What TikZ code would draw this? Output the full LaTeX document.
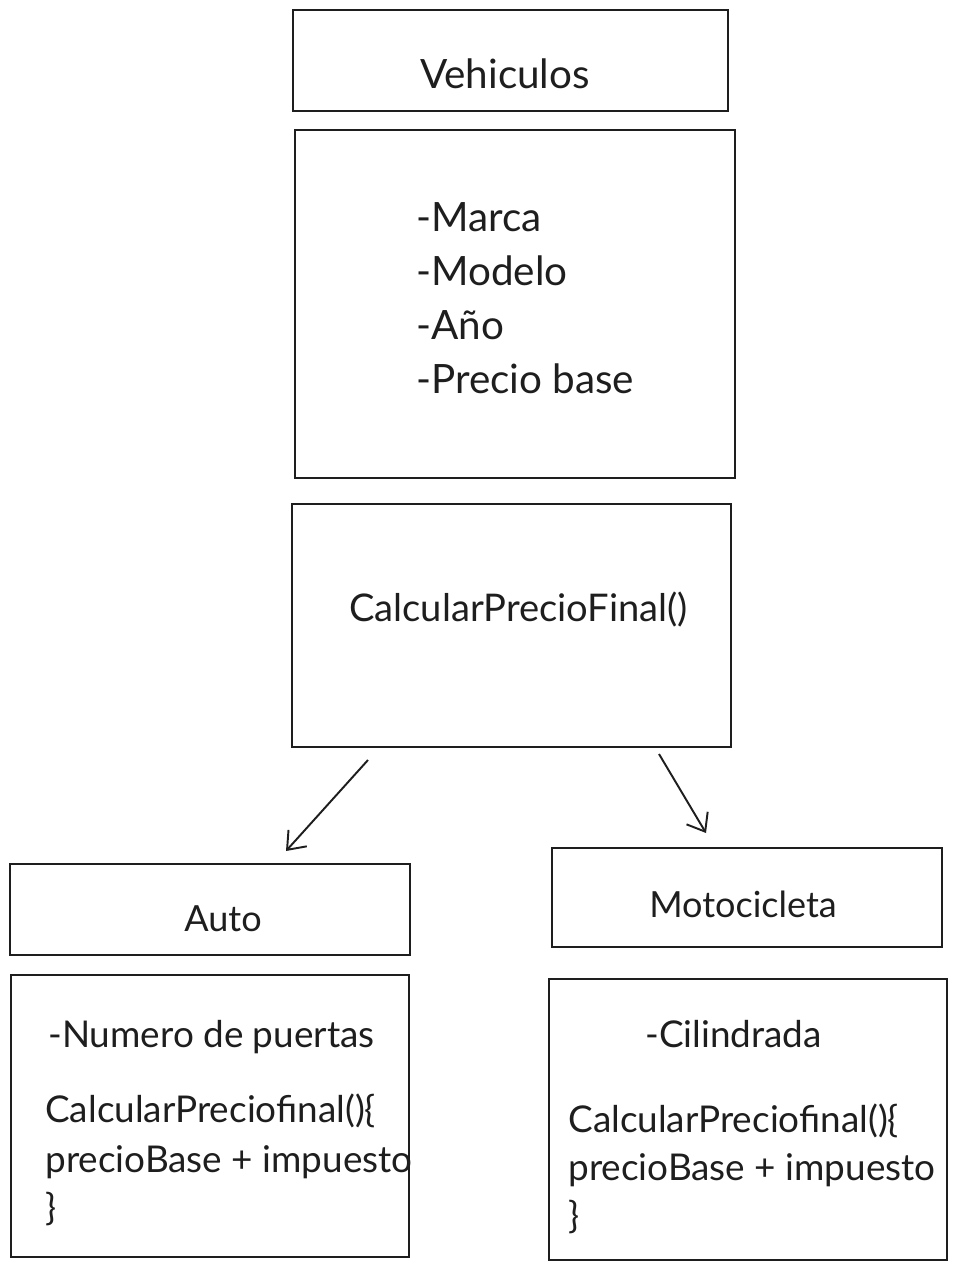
\documentclass[tikz,border=0pt]{standalone}
\usepackage{fontspec}
\setmainfont{Lato}
\usepackage{xcolor}
\usetikzlibrary{positioning, arrows.meta}
\definecolor{ink}{HTML}{1E1E1E}

\tikzset{
  box/.style={draw=ink, line width=1.1pt, rectangle, inner sep=0pt},
  lbl/.style={text=ink, inner sep=0pt, font=\fontsize{23}{28}\selectfont},
  ttl/.style={text=ink, inner sep=0pt, font=\fontsize{20.5}{25}\selectfont},
  sml/.style={text=ink, inner sep=0pt, font=\fontsize{21}{26}\selectfont},
  flecha/.style={draw=ink, line width=1.1pt, -{Straight Barb[length=9pt, width=14pt]}}
}

\begin{document}
\begin{tikzpicture}[x=0.02cm, y=-0.02cm]
  \useasboundingbox (0,0) rectangle (957,1272);
  % clase padre
  \node[box, minimum width=435*0.02cm, minimum height=101*0.02cm] (veh) at (510.5,60.5) {};
  \node[box, minimum width=440*0.02cm, minimum height=348*0.02cm] (attr) at (515,304) {};
  \node[box, minimum width=439*0.02cm, minimum height=243*0.02cm] (meth) at (511.5,625.5) {};
  \node[lbl, anchor=base] (vehT) at (505,88) {Vehiculos};
  \foreach \t [count=\i] in {-Marca, -Modelo, -Año, -Precio base}
    \node[lbl, anchor=base west] (attr\i) at (416,177+54*\i) {\t};
  \node[sml, font=\fontsize{21.7}{26}\selectfont, anchor=base west] (methT) at (349,621) {CalcularPrecioFinal()};

  % clases hijas
  \node[box, minimum width=400*0.02cm, minimum height=91*0.02cm] (auto) at (210,909.5) {};
  \node[box, minimum width=398*0.02cm, minimum height=282*0.02cm] (autoB) at (210,1116) {};
  \node[box, minimum width=390*0.02cm, minimum height=99*0.02cm] (moto) at (747,897.5) {};
  \node[box, minimum width=398*0.02cm, minimum height=281*0.02cm] (motoB) at (748,1119.5) {};
  \node[ttl, anchor=base] (autoT) at (223,931) {Auto};
  \node[ttl, anchor=base] (motoT) at (743,917) {Motocicleta};
  \node[sml, anchor=base west] (puertas) at (48,1047) {-Numero de puertas};
  \node[sml, anchor=base west] (cil) at (645,1047) {-Cilindrada};
  \node[sml, anchor=base west] (autoC1) at (45,1122) {CalcularPreciofinal()\{};
  \node[sml, anchor=base west] (autoC2) at (45,1172) {precioBase + impuesto};
  \node[sml, anchor=base west] (autoC3) at (45,1220) {\}};
  \node[sml, anchor=base west] (motoC1) at (568,1132) {CalcularPreciofinal()\{};
  \node[sml, anchor=base west] (motoC2) at (568,1180) {precioBase + impuesto};
  \node[sml, anchor=base west] (motoC3) at (568,1228) {\}};

  % herencia
  \coordinate (a1) at (368,760);
  \coordinate (a2) at (286,851);
  \coordinate (b1) at (659,754);
  \coordinate (b2) at (706,833);
  \draw[flecha] (a1) -- (a2);
  \draw[flecha] (b1) -- (b2);
\end{tikzpicture}
\end{document}
